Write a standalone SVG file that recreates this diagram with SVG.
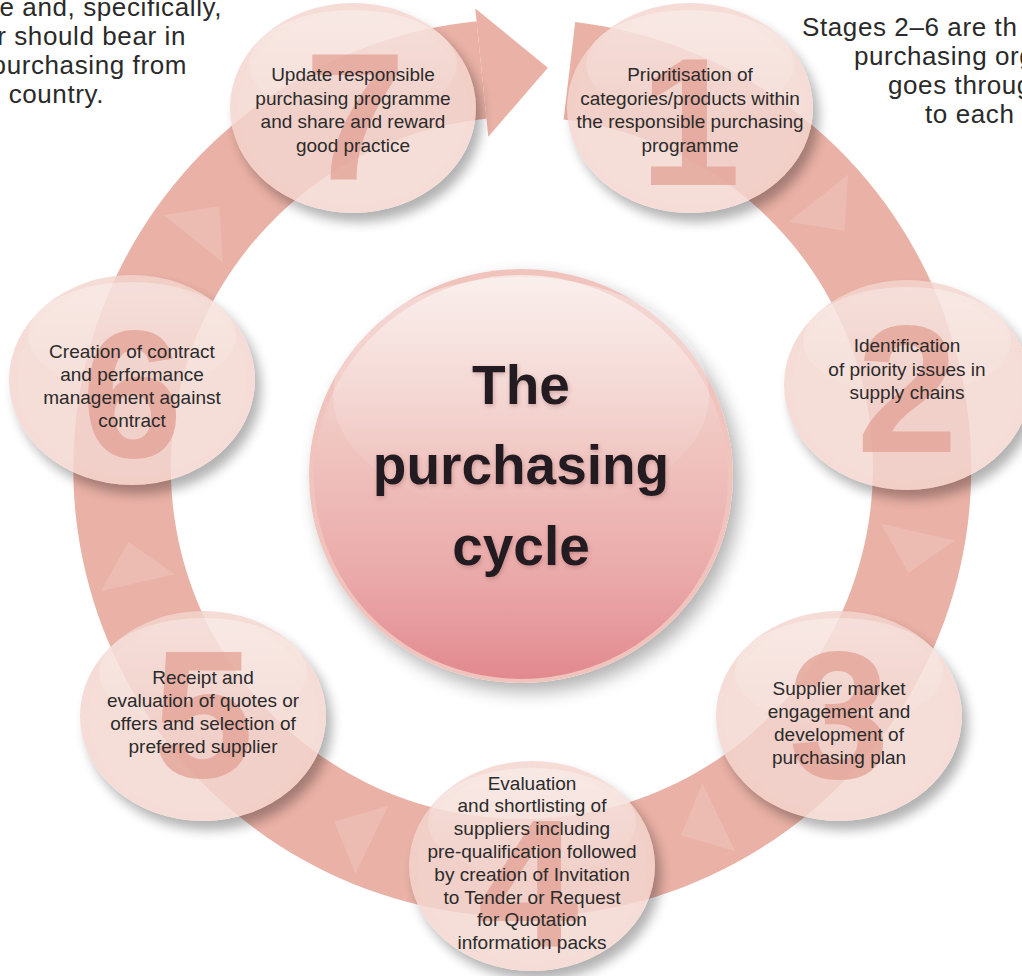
<svg xmlns="http://www.w3.org/2000/svg" xmlns:xlink="http://www.w3.org/1999/xlink" width="1022" height="976" viewBox="0 0 1022 976">
<style>
.para{font-family:"Liberation Sans",Arial,sans-serif;font-size:26px;fill:#2a2a2a;letter-spacing:0.6px}
.lbl{font-family:"Liberation Sans",Arial,sans-serif;font-size:19px;fill:#2b2b2b;text-anchor:middle}
.digit{font-family:"Liberation Sans",Arial,sans-serif;font-weight:bold;font-size:182px;fill:#e39f92;opacity:0.72;text-anchor:middle}
.title{font-family:"Liberation Sans",Arial,sans-serif;font-weight:bold;font-size:55px;fill:#231f20;text-anchor:middle}
.ring{fill:#eab1a6}
.chev{fill:#ffffff;opacity:0.13}
.nbody{fill:#f3d4cd;opacity:0.82}
.ninner{fill:#ffffff;opacity:0.06}
.nshadow{fill:#000000;opacity:0.3}
</style>
<defs>
  <filter id="blur6" x="-30%" y="-30%" width="160%" height="160%"><feGaussianBlur stdDeviation="6"/></filter>
  <filter id="blur9" x="-30%" y="-30%" width="160%" height="160%"><feGaussianBlur stdDeviation="9"/></filter>
  <filter id="tshadow" x="-20%" y="-20%" width="140%" height="140%"><feDropShadow dx="1" dy="2" stdDeviation="2" flood-color="#7a3a3a" flood-opacity="0.3"/></filter>
  <mask id="outside" maskUnits="userSpaceOnUse" x="-200" y="-200" width="400" height="400">
    <rect x="-200" y="-200" width="400" height="400" fill="#fff"/>
    <ellipse rx="123" ry="105" fill="#000"/>
  </mask>
  <mask id="outsideC" maskUnits="userSpaceOnUse" x="250" y="220" width="560" height="540">
    <rect x="250" y="220" width="560" height="540" fill="#fff"/>
    <ellipse cx="521" cy="476" rx="212" ry="207" fill="#000"/>
  </mask>
  <linearGradient id="glossN" x1="0" y1="0" x2="0" y2="1">
    <stop offset="0" stop-color="#fff" stop-opacity="0.32"/>
    <stop offset="1" stop-color="#fff" stop-opacity="0.02"/>
  </linearGradient>
  <linearGradient id="centerGrad" x1="0" y1="0" x2="0" y2="1">
    <stop offset="0" stop-color="#f7e6e2"/>
    <stop offset="0.4" stop-color="#f0c6c1"/>
    <stop offset="0.75" stop-color="#eaa9a9"/>
    <stop offset="1" stop-color="#e2898f"/>
  </linearGradient>
  <linearGradient id="glossC" x1="0" y1="0" x2="0" y2="1">
    <stop offset="0" stop-color="#fff" stop-opacity="0.35"/>
    <stop offset="1" stop-color="#fff" stop-opacity="0"/>
  </linearGradient>
  <polygon id="chevShape" class="chev" points="-26,-38 16,0 -26,38"/>
  <g id="nodeBase">
    <ellipse class="nshadow" cx="6" cy="9" rx="123" ry="105" filter="url(#blur6)" mask="url(#outside)"/>
    <ellipse class="nbody" rx="123" ry="105"/>
    <ellipse class="ninner" rx="115" ry="97"/>
  </g>
  <ellipse id="nodeGloss" cx="0" cy="-44" rx="104" ry="54" fill="url(#glossN)"/>
</defs>

<g id="paragraphs">
  <text class="para" text-anchor="end" x="222" y="16">e and, specifically,</text>
  <text class="para" text-anchor="end" x="186" y="45">r should bear in</text>
  <text class="para" text-anchor="end" x="187" y="74">purchasing from</text>
  <text class="para" text-anchor="end" x="104" y="103">country.</text>
  <text class="para" x="802" y="36">Stages 2–6 are th</text>
  <text class="para" x="854" y="65">purchasing org</text>
  <text class="para" x="888" y="94">goes throug</text>
  <text class="para" x="925" y="123">to each</text>
</g>

<g id="connectors">
  <path class="ring" d="M575.2,22.1 A449,449 0 1 1 476.6,21.3 L486.5,118.8 A351,351 0 1 0 563.6,119.5 Z"/>
  <polygon class="ring" points="475.3,8.4 547.9,67.8 488.3,136.7"/>
  <use xlink:href="#chevShape" transform="translate(522,468) rotate(51.4) translate(0,-400)"/>
  <use xlink:href="#chevShape" transform="translate(522,468) rotate(102.9) translate(0,-400)"/>
  <use xlink:href="#chevShape" transform="translate(522,468) rotate(154.3) translate(0,-400)"/>
  <use xlink:href="#chevShape" transform="translate(522,468) rotate(205.7) translate(0,-400)"/>
  <use xlink:href="#chevShape" transform="translate(522,468) rotate(257.1) translate(0,-400)"/>
  <use xlink:href="#chevShape" transform="translate(522,468) rotate(308.6) translate(0,-400)"/>
</g>

<g id="center">
  <ellipse cx="528" cy="485" rx="212" ry="207" fill="#000" opacity="0.3" filter="url(#blur9)" mask="url(#outsideC)"/>
  <ellipse cx="521" cy="476" rx="212" ry="207" fill="#f0c3bd"/>
  <ellipse cx="521" cy="477" rx="207" ry="202" fill="url(#centerGrad)"/>
  <ellipse cx="521" cy="395" rx="188" ry="118" fill="url(#glossC)"/>
  <g filter="url(#tshadow)">
    <text class="title" x="521" y="404">The</text>
    <text class="title" x="521" y="484">purchasing</text>
    <text class="title" x="521" y="565">cycle</text>
  </g>
</g>

<g id="node-1" transform="translate(690,108)">
  <use xlink:href="#nodeBase"/>
  <use xlink:href="#nodeGloss"/>
  <text class="digit" x="0" y="77">1</text>
  <text class="lbl"><tspan x="0" y="-27">Prioritisation of</tspan><tspan x="0" y="-3">categories/products within</tspan><tspan x="0" y="20">the responsible purchasing</tspan><tspan x="0" y="44">programme</tspan></text>
</g>

<g id="node-2" transform="translate(907,385)">
  <use xlink:href="#nodeBase"/>
  <use xlink:href="#nodeGloss"/>
  <text class="digit" x="0" y="67">2</text>
  <text class="lbl"><tspan x="0" y="-33">Identification</tspan><tspan x="0" y="-9">of priority issues in</tspan><tspan x="0" y="14">supply chains</tspan></text>
</g>

<g id="node-3" transform="translate(839,716)">
  <use xlink:href="#nodeBase"/>
  <use xlink:href="#nodeGloss"/>
  <text class="digit" x="0" y="62">3</text>
  <text class="lbl"><tspan x="0" y="-21">Supplier market</tspan><tspan x="0" y="2">engagement and</tspan><tspan x="0" y="25">development of</tspan><tspan x="0" y="48">purchasing plan</tspan></text>
</g>

<g id="node-4" transform="translate(532,866)">
  <use xlink:href="#nodeBase"/>
  <use xlink:href="#nodeGloss"/>
  <text class="digit" x="-4" y="81">4</text>
  <text class="lbl"><tspan x="0" y="-76">Evaluation</tspan><tspan x="0" y="-54">and shortlisting of</tspan><tspan x="0" y="-31">suppliers including</tspan><tspan x="0" y="-8">pre-qualification followed</tspan><tspan x="0" y="15">by creation of Invitation</tspan><tspan x="0" y="38">to Tender or Request</tspan><tspan x="0" y="60">for Quotation</tspan><tspan x="0" y="83">information packs</tspan></text>
</g>

<g id="node-5" transform="translate(203,716)">
  <use xlink:href="#nodeBase"/>
  <use xlink:href="#nodeGloss"/>
  <text class="digit" x="0" y="61">5</text>
  <text class="lbl"><tspan x="0" y="-32">Receipt and</tspan><tspan x="0" y="-9">evaluation of quotes or</tspan><tspan x="0" y="14">offers and selection of</tspan><tspan x="0" y="37">preferred supplier</tspan></text>
</g>

<g id="node-6" transform="translate(132,380)">
  <use xlink:href="#nodeBase"/>
  <use xlink:href="#nodeGloss"/>
  <text class="digit" x="0" y="77">6</text>
  <text class="lbl"><tspan x="0" y="-22">Creation of contract</tspan><tspan x="0" y="1">and performance</tspan><tspan x="0" y="24">management against</tspan><tspan x="0" y="47">contract</tspan></text>
</g>

<g id="node-7" transform="translate(353,108)">
  <use xlink:href="#nodeBase"/>
  <use xlink:href="#nodeGloss"/>
  <text class="digit" x="2" y="72">7</text>
  <text class="lbl"><tspan x="0" y="-27">Update responsible</tspan><tspan x="0" y="-3">purchasing programme</tspan><tspan x="0" y="20">and share and reward</tspan><tspan x="0" y="44">good practice</tspan></text>
</g>
</svg>
